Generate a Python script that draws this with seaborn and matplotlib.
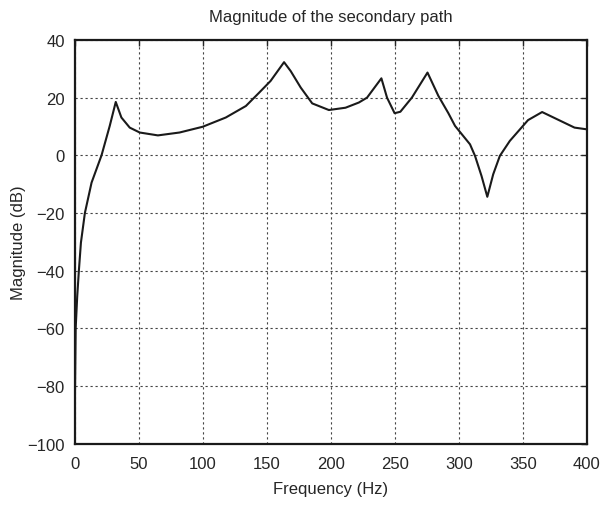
import numpy as np
import pandas as pd
import matplotlib
matplotlib.use("Agg")
import matplotlib.pyplot as plt
import seaborn as sns

# values
freq = [0, 0.8, 2, 3.3, 4.9, 8, 13.2, 21, 27.4, 32.1, 36.5, 43, 50.8, 65, 81.9,
        100, 118, 133.7, 144, 153, 163.5, 168.7, 176.5, 185.5, 198.5, 211.5,
        221.9, 228.3, 239.5, 243.9, 249.8, 254.3, 263.3, 275.5, 284, 291.8,
        297, 308.7, 312.6, 317.7, 322.2, 326.8, 332, 339.8, 354, 365, 390.3, 400]
mag = [-92, -60, -49, -40, -30.3, -20, -9.5, 0, 10.2, 18.5, 13.1, 9.6, 7.9, 6.9, 7.9,
       9.9, 13.1, 17.1, 21.7, 25.8, 32.3, 29.2, 23.5, 18.0, 15.7, 16.5,
       18.3, 20.0, 26.7, 20.0, 14.6, 15.1, 20.0, 28.7, 20.6, 14.6,
       10.2, 3.8, -0.2, -7.2, -14.4, -6.6, -0.2, 5.0, 12.2, 15.0, 9.6, 9.0]

xticks = [0, 50, 100, 150, 200, 250, 300, 350, 400]
yticks = [-100, -80, -60, -40, -20, 0, 20, 40]

df = pd.DataFrame({"Frequency": freq, "Magnitude": mag})

sns.set_style("white")
plt.rcParams["font.family"] = ["Liberation Sans", "DejaVu Sans"]
plt.rcParams["axes.unicode_minus"] = True

fig = plt.figure(figsize=(6.02, 5.06), dpi=100)
ax = fig.add_axes([0.124, 0.1215, 0.851, 0.7975])
sns.lineplot(data=df, x="Frequency", y="Magnitude", color="#1a1a1a", linewidth=1.5, ax=ax)

ax.set_xlim(0, 400)
ax.set_ylim(-100, 40)
ax.set_xticks(xticks)
ax.set_yticks(yticks)
ax.grid(True, linestyle=(0, (2, 2.5)), color="#444444", linewidth=0.8)
ax.tick_params(direction="in", length=4, top=True, right=True, labelsize=12, width=1)
ax.tick_params(axis="x", pad=9)
ax.tick_params(axis="y", pad=7)
for s in ax.spines.values():
    s.set_linewidth(1.6)
    s.set_color("#1a1a1a")
ax.set_title("Magnitude of the secondary path", fontsize=12, pad=14)
ax.set_xlabel("Frequency (Hz)", fontsize=12, labelpad=7)
ax.set_ylabel("Magnitude (dB)", fontsize=12, labelpad=1)

fig.savefig("out.png", dpi=100)
